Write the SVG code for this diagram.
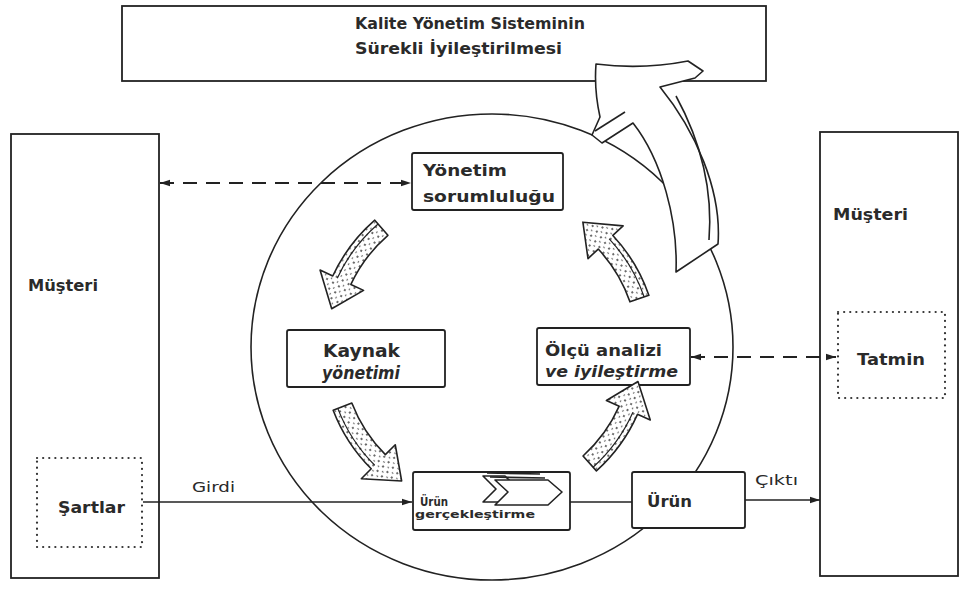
<svg xmlns="http://www.w3.org/2000/svg" xmlns:xlink="http://www.w3.org/1999/xlink" width="964" height="592" viewBox="0 0 964 592">
<style>
.box{fill:#fff;stroke:#222;stroke-width:1.8}
.dotbox{fill:none;stroke:#333;stroke-width:2.2;stroke-linecap:round;stroke-dasharray:0.1 6}
.line{fill:none;stroke:#222;stroke-width:1.6}
.dash{fill:none;stroke:#222;stroke-width:1.8;stroke-dasharray:14 9}
.t{font-family:"DejaVu Sans","Liberation Sans",sans-serif;font-weight:bold;fill:#2a2a2a}
.r{font-family:"DejaVu Sans","Liberation Sans",sans-serif;font-weight:normal;fill:#2a2a2a}
.it{font-style:italic}
.shape{stroke:#222;stroke-width:1.6;stroke-linejoin:round}
</style>
<defs>
<marker id="ah" viewBox="0 0 10 8" refX="10" refY="4" markerWidth="10" markerHeight="8" markerUnits="userSpaceOnUse" orient="auto-start-reverse">
<path d="M0,0.8 L10,4 L0,7.2 z" fill="#222"/>
</marker>
<pattern id="dots" width="7" height="7" patternUnits="userSpaceOnUse">
<circle cx="2" cy="2" r="0.9" fill="#222"/>
<circle cx="5.5" cy="5" r="0.7" fill="#222"/>
</pattern>
<path id="carrow" d="M160.66,49.12 A168,168 0 0 0 166.74,-20.48 L180.64,-22.19 L150.27,-48.82 L133,-16.33 L146.89,-18.04 A148,148 0 0 1 141.53,43.28 Z"/>
<path id="cline" d="M155.9,47.7 A163,163 0 0 0 161.8,-19.9"/>
</defs>

<g id="cycle">
<ellipse class="line" cx="492" cy="347" rx="241" ry="233"/>
</g>

<g id="node-improvement">
<rect class="box" x="122" y="6" width="644" height="75"/>
<text class="t" x="355" y="29" font-size="16" textLength="230" lengthAdjust="spacingAndGlyphs">Kalite Yönetim Sisteminin</text>
<text class="t" x="355" y="54" font-size="16" textLength="207" lengthAdjust="spacingAndGlyphs">Sürekli İyileştirilmesi</text>
</g>

<g id="improvement-arrow">
<path class="shape" fill="#fff" d="M596,64 Q642,70 688,61 L703,71 L695,78 L660,87 C695,130 722,190 718,244 L676,272 C678,220 662,160 633,123 L602,143 L592,135 L600,117 Q594,90 596,64 Z"/>
<path class="line" d="M676,96 C700,140 713,190 709,240"/>
<path class="line" d="M595,131 L625,112"/>
</g>

<g id="node-customer-left">
<rect class="box" x="11" y="134" width="148" height="444" fill="none"/>
<text class="t" x="28" y="291" font-size="15" textLength="70" lengthAdjust="spacingAndGlyphs">Müşteri</text>
</g>

<g id="node-requirements">
<rect class="dotbox" x="37" y="458" width="105" height="89"/>
<text class="t" x="58" y="513" font-size="15" textLength="67" lengthAdjust="spacingAndGlyphs">Şartlar</text>
</g>

<g id="node-customer-right">
<rect class="box" x="820" y="132" width="138" height="444"/>
<text class="t" x="833" y="220" font-size="15" textLength="75" lengthAdjust="spacingAndGlyphs">Müşteri</text>
</g>

<g id="node-satisfaction">
<rect class="dotbox" x="838" y="312" width="107" height="86"/>
<text class="t" x="857" y="365" font-size="15" textLength="68" lengthAdjust="spacingAndGlyphs">Tatmin</text>
</g>

<g id="node-management">
<rect class="box" x="412" y="153" width="151" height="57" rx="2"/>
<text class="t" x="423" y="176" font-size="15" textLength="84" lengthAdjust="spacingAndGlyphs">Yönetim</text>
<text class="t" x="423" y="202" font-size="15" textLength="132" lengthAdjust="spacingAndGlyphs">sorumluluğu</text>
</g>

<g id="node-resource">
<rect class="box" x="287" y="330" width="158" height="57" rx="2"/>
<text class="t" x="323" y="357" font-size="17" textLength="77" lengthAdjust="spacingAndGlyphs">Kaynak</text>
<text class="t it" x="322" y="379" font-size="17" textLength="78" lengthAdjust="spacingAndGlyphs">yönetimi</text>
</g>

<g id="node-measurement">
<rect class="box" x="537" y="328" width="153" height="57" rx="2"/>
<text class="t" x="545" y="356" font-size="16" textLength="117" lengthAdjust="spacingAndGlyphs">Ölçü analizi</text>
<text class="t it" x="545" y="377" font-size="16" textLength="133" lengthAdjust="spacingAndGlyphs">ve iyileştirme</text>
</g>

<g id="node-realization">
<rect class="box" x="413" y="472" width="157" height="58" rx="2"/>
<path class="shape" fill="#fff" d="M483,476 L505,476 L518,489 L505,502 L483,502 L496,489 Z"/>
<path class="shape" fill="#fff" d="M495,480 L548,480 L562,492 L548,505 L495,505 L508,492 Z"/>
<path class="line" d="M487,473 L540,474 M490,477 L545,478"/>
<text class="t" x="420" y="506" font-size="13" textLength="28" lengthAdjust="spacingAndGlyphs">Ürün</text>
<text class="t" x="415" y="518" font-size="10" textLength="120" lengthAdjust="spacingAndGlyphs">gerçekleştirme</text>
</g>

<g id="node-product">
<rect class="box" x="632" y="472" width="113" height="56" rx="2"/>
<text class="t" x="647" y="507" font-size="15" textLength="45" lengthAdjust="spacingAndGlyphs">Ürün</text>
</g>

<g id="cycle-arrows" fill="none">
<g transform="translate(485,347) rotate(212)">
<use xlink:href="#carrow" fill="#fff"/>
<use xlink:href="#carrow" fill="url(#dots)" stroke="#222" stroke-width="1.6" stroke-linejoin="round"/>
<use xlink:href="#cline" fill="none" stroke="#222" stroke-width="1.2"/>
</g>
<g transform="translate(490,350) rotate(324)">
<use xlink:href="#carrow" fill="#fff"/>
<use xlink:href="#carrow" fill="url(#dots)" stroke="#222" stroke-width="1.6" stroke-linejoin="round"/>
<use xlink:href="#cline" fill="none" stroke="#222" stroke-width="1.2"/>
</g>
<g transform="translate(490,350) rotate(142)">
<use xlink:href="#carrow" fill="#fff"/>
<use xlink:href="#carrow" fill="url(#dots)" stroke="#222" stroke-width="1.6" stroke-linejoin="round"/>
<use xlink:href="#cline" fill="none" stroke="#222" stroke-width="1.2"/>
</g>
<g transform="translate(484,346) rotate(31)">
<use xlink:href="#carrow" fill="#fff"/>
<use xlink:href="#carrow" fill="url(#dots)" stroke="#222" stroke-width="1.6" stroke-linejoin="round"/>
<use xlink:href="#cline" fill="none" stroke="#222" stroke-width="1.2"/>
</g>
</g>

<g id="connectors">
<path class="dash" d="M160,183 L411,183" marker-start="url(#ah)" marker-end="url(#ah)"/>
<path class="dash" d="M691,357 L836,357" marker-start="url(#ah)" marker-end="url(#ah)"/>
<path class="line" d="M143,502 L412,502" marker-end="url(#ah)"/>
<path class="line" d="M570,502 L632,502"/>
<path class="line" d="M745,500 L820,500" marker-end="url(#ah)"/>
<text class="r" x="192" y="492" font-size="14" textLength="43" lengthAdjust="spacingAndGlyphs">Girdi</text>
<text class="r" x="755" y="485" font-size="14" textLength="43" lengthAdjust="spacingAndGlyphs">Çıktı</text>
</g>
</svg>
